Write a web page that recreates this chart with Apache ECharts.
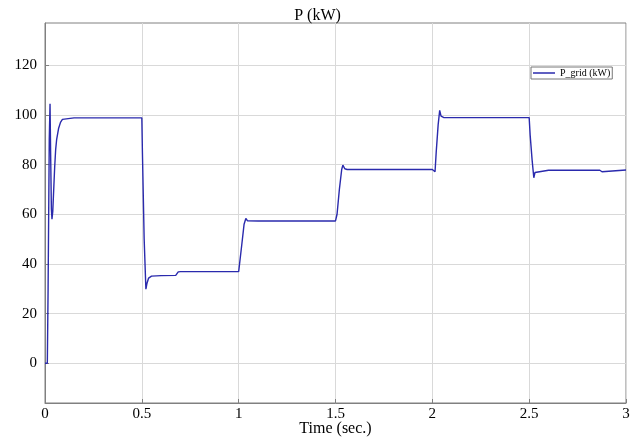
<!DOCTYPE html>
<html>
<head>
<meta charset="utf-8">
<script src="https://cdn.jsdelivr.net/npm/echarts@6/dist/echarts.min.js"></script>
<style>
  html, body { margin: 0; padding: 0; background: #fff; }
  #main { width: 635px; height: 439px; }
</style>
</head>
<body>
<div id="main"></div>
<script>
// time (s) and grid power (kW)
const times = [0, 0.012, 0.016, 0.022, 0.026, 0.029, 0.033, 0.036, 0.04, 0.045, 0.05, 0.055, 0.06, 0.07, 0.08, 0.09, 0.1, 0.15, 0.3, 0.31, 0.32, 0.5,
  0.503, 0.512, 0.521, 0.526, 0.535, 0.55, 0.6, 0.675, 0.688, 0.7, 1.0,
  1.004, 1.015, 1.028, 1.037, 1.045, 1.1, 1.5,
  1.508, 1.52, 1.532, 1.538, 1.548, 1.56, 2.0,
  2.014, 2.02, 2.03, 2.038, 2.045, 2.06, 2.5,
  2.505, 2.515, 2.524, 2.53, 2.54, 2.6, 2.865, 2.876, 2.886, 3.0];
const power = [0, 0, 30, 90, 104.5, 85, 62, 58, 61, 70, 79, 86, 90, 94.5, 97, 98.2, 98.7, 98.8, 98.8, 98.2, 98.8, 98.8,
  85, 50, 29.8, 32, 34.3, 35.1, 35.3, 35.4, 36.8, 36.9, 36.9,
  37.5, 47, 56, 58.3, 57.4, 57.3, 57.3,
  60, 70, 78, 79.8, 78.3, 78.0, 78.0,
  77.1, 85, 96, 101.8, 99.5, 98.9, 98.9,
  92, 82, 74.7, 76.8, 77.5, 77.7, 77.7, 77.1, 77.7, 77.8];
const xTicks = [0, 0.5, 1, 1.5, 2, 2.5, 3];
const yTicks = [0, 20, 40, 60, 80, 100, 120];
const seriesName = 'P_grid (kW)';

const serif = 'Liberation Serif';
const chart = echarts.init(document.getElementById('main'));
const data = times.map(function (t, i) { return [t, power[i]]; });

chart.setOption({
  animation: false,
  title: {
    text: 'P (kW)',
    left: 'center',
    top: 3,
    textStyle: { fontFamily: serif, fontSize: 16, fontWeight: 'normal', color: '#000' }
  },
  legend: {
    data: [{ name: seriesName, icon: 'rect' }],
    left: 531,
    top: 67,
    itemWidth: 22,
    itemHeight: 1.5,
    padding: [1, 2, 1, 2],
    borderColor: '#777',
    borderWidth: 1,
    backgroundColor: '#fff',
    textStyle: { fontFamily: serif, fontSize: 10, color: '#000' }
  },
  grid: {
    left: 45, right: 9, top: 23, bottom: 36,
    containLabel: false,
    outerBoundsMode: 'none',
    show: true, borderColor: '#808080', borderWidth: 1
  },
  xAxis: {
    type: 'value',
    min: 0, max: 3, interval: 0.5,
    name: 'Time (sec.)',
    nameLocation: 'middle',
    nameGap: 18,
    nameMoveOverlap: false,
    nameTextStyle: { fontFamily: serif, fontSize: 16, color: '#000' },
    axisLine: { onZero: false, lineStyle: { color: '#808080' } },
    axisTick: { inside: true, length: 4, customValues: xTicks, lineStyle: { color: '#808080' } },
    axisLabel: {
      margin: 4, fontFamily: serif, fontSize: 15, color: '#000', customValues: xTicks,
      formatter: function (v) { return String(v); }
    },
    splitLine: { show: true, lineStyle: { color: '#d9d9d9' } }
  },
  yAxis: {
    type: 'value',
    min: -16, max: 137,
    axisLine: { show: true, onZero: false, lineStyle: { color: '#808080' } },
    axisTick: { show: true, inside: true, length: 4, customValues: yTicks, lineStyle: { color: '#808080' } },
    axisLabel: { margin: 8, fontFamily: serif, fontSize: 15, color: '#000', customValues: yTicks },
    splitLine: { show: true, lineStyle: { color: '#d9d9d9' } }
  },
  series: [{
    name: seriesName,
    type: 'line',
    data: data,
    showSymbol: false,
    color: '#2a2aad',
    lineStyle: { width: 1.4, color: '#2a2aad' }
  }]
});
</script>
</body>
</html>
